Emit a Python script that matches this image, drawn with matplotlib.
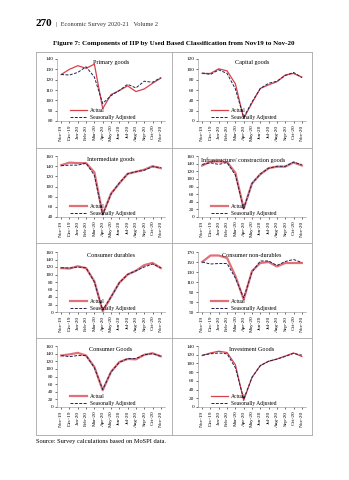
"""
Figure 7: Components of IIP by Use Based Classification, Nov-19 to Nov-20.
Recreates the page crop: eight small Excel-style line panels in a boxed grid.

Writes out.png
"""

import matplotlib
matplotlib.use("Agg")
import matplotlib.pyplot as plt
from matplotlib.lines import Line2D
import numpy as np


W, H = 349, 480

months = ["Nov-19", "Dec-19", "Jan-20", "Feb-20", "Mar-20", "Apr-20", "May-20",
          "Jun-20", "Jul-20", "Aug-20", "Sep-20", "Oct-20", "Nov-20"]

primary_actual = [125, 130, 133.5, 131, 135, 92, 105.5, 109.5, 114, 108.5, 111, 116.5, 121.5]
primary_sa = [125, 124.5, 127, 132.5, 122.5, 97, 104.5, 109.5, 115.5, 112, 118.5, 117.5, 122]

capital_actual = [92, 92, 101, 97, 72, 5, 35, 63, 70, 76, 89, 92, 85]
capital_sa = [93, 90, 99, 92, 62, 7, 37, 63, 73, 77, 88, 94, 84]

intermediate_actual = [142, 147, 146, 146, 128, 45, 86, 106, 125, 129, 133, 140, 136]
intermediate_sa = [141, 142, 142, 146, 122, 45, 85, 107, 125, 129, 132, 139, 137]

infra_actual = [135, 145, 146, 144, 116, 22, 88, 112, 128, 132, 132, 143, 135]
infra_sa = [138, 142, 138, 143, 110, 22, 88, 113, 128, 133, 133, 144, 137]

durables_actual = [117, 116, 122, 117, 82, 2, 40, 78, 100, 110, 125, 131, 117]
durables_sa = [118, 117, 120, 118, 80, 5, 40, 78, 100, 110, 120, 128, 118]

nondurables_actual = [150, 163, 163, 158, 122, 75, 132, 148, 150, 141, 148, 148, 148]
nondurables_sa = [150, 146, 147, 147, 118, 78, 130, 152, 152, 143, 151, 155, 149]

consumer_actual = [135, 138, 142, 135, 105, 44, 92, 118, 126, 125, 137, 141, 133]
consumer_sa = [135, 132, 135, 135, 103, 46, 92, 117, 127, 127, 137, 140, 133]

investment_actual = [118, 124, 128, 125, 97, 15, 68, 95, 105, 110, 117, 124, 116]
investment_sa = [119, 122, 124, 122, 90, 18, 68, 95, 105, 110, 116, 123, 119]

RED = "#D8414A"
NAVY = "#1F2250"
GRID = "#A6A6A6"
SERIF = ["Liberation Serif", "DejaVu Serif"]

plt.rcParams["font.family"] = SERIF


def fig_box(x0, y0, x1, y1):
    """pixel box (top-left origin) -> figure fraction [l, b, w, h]"""
    return [x0 / W, 1 - y1 / H, (x1 - x0) / W, (y1 - y0) / H]


def panel(fig, box, title, actual, sa, ymin, ymax, step, thick=False, tx=0.5):
    ax = fig.add_axes(fig_box(*box))
    x = np.arange(len(months))
    ax.plot(x, actual, color=RED, lw=1.6 if thick else 0.9, label="Actual",
            alpha=0.75 if thick else 1.0)
    ax.plot(x, sa, color=NAVY, lw=0.7, ls=(0, (3, 1.5)), label="Seasonally Adjusted")
    ax.set_xlim(-0.5, len(months) - 0.5)
    ax.set_ylim(ymin, ymax)
    ax.set_yticks(np.arange(ymin, ymax + 0.1, step))
    ax.set_xticks(x)
    ax.set_xticklabels(months, rotation=90, fontsize=3.8)
    ax.tick_params(axis="y", labelsize=3.8, length=1.2, width=0.4, pad=1.5)
    ax.tick_params(axis="x", length=1.2, width=0.4, pad=1.5)
    for s in ("top", "right"):
        ax.spines[s].set_visible(False)
    for s in ("left", "bottom"):
        ax.spines[s].set_color("#8C8C8C")
        ax.spines[s].set_linewidth(0.4)
    ax.set_facecolor("none")
    ax.text(tx, 0.98, title, transform=ax.transAxes, ha="center", va="top",
            fontsize=4.4)
    ax.legend(loc="lower left", bbox_to_anchor=(0.08, -0.04), fontsize=4.0,
              frameon=False, handlelength=3.2, handletextpad=0.4,
              labelspacing=0.25, borderpad=0.2)
    return ax


fig = plt.figure(figsize=(W / 100, H / 100), dpi=100)
fig.patch.set_facecolor("white")

# page header
fig.text(36 / W, 1 - 24 / H, "270", fontsize=8, fontweight="bold", va="center")
fig.text(56 / W, 1 - 24.5 / H, "|  Economic Survey 2020-21   Volume 2",
         fontsize=4.6, va="center", color="#333333")
fig.text(174 / W, 1 - 44 / H,
         "Figure 7: Components of IIP by Used Based Classification from Nov19 to Nov-20",
         fontsize=5.0, fontweight="bold", ha="center", va="center")
fig.text(36 / W, 1 - 441 / H, "Source: Survey calculations based on MoSPI data.",
         fontsize=4.6, va="center")

# grid box
def hline(y, x0=36, x1=312):
    fig.add_artist(Line2D([x0 / W, x1 / W], [1 - y / H, 1 - y / H],
                          color=GRID, lw=0.6))


def vline(x, y0=52, y1=435):
    fig.add_artist(Line2D([x / W, x / W], [1 - y0 / H, 1 - y1 / H],
                          color=GRID, lw=0.6))


for y in (52, 148, 243, 338, 435):
    hline(y)
for x in (36, 172, 312):
    vline(x)

left = (57, 165)
right = (198, 306)
rows = [(59, 121), (156, 217), (252, 312), (346, 407)]

panel(fig, (left[0], rows[0][0], left[1], rows[0][1]), "Primary goods",
      primary_actual, primary_sa, 80, 140, 10)
panel(fig, (right[0], rows[0][0], right[1], rows[0][1]), "Capital goods",
      capital_actual, capital_sa, 0, 120, 20)
panel(fig, (left[0], rows[1][0], left[1], rows[1][1]), "Intermediate goods",
      intermediate_actual, intermediate_sa, 40, 160, 20, thick=True)
panel(fig, (right[0], rows[1][0], right[1], rows[1][1]),
      "Infrastructure/ construction goods",
      infra_actual, infra_sa, 0, 160, 20, thick=True, tx=0.42)
panel(fig, (left[0], rows[2][0], left[1], rows[2][1]), "Consumer durables",
      durables_actual, durables_sa, 0, 160, 20, thick=True)
panel(fig, (right[0], rows[2][0], right[1], rows[2][1]), "Consumer non-durables",
      nondurables_actual, nondurables_sa, 50, 170, 20, thick=True)
panel(fig, (left[0], rows[3][0], left[1], rows[3][1]), "Consumer Goods",
      consumer_actual, consumer_sa, 0, 160, 20, thick=True)
panel(fig, (right[0], rows[3][0], right[1], rows[3][1]), "Investment Goods",
      investment_actual, investment_sa, 0, 140, 20)

fig.savefig("out.png", dpi=100)
plt.close(fig)
